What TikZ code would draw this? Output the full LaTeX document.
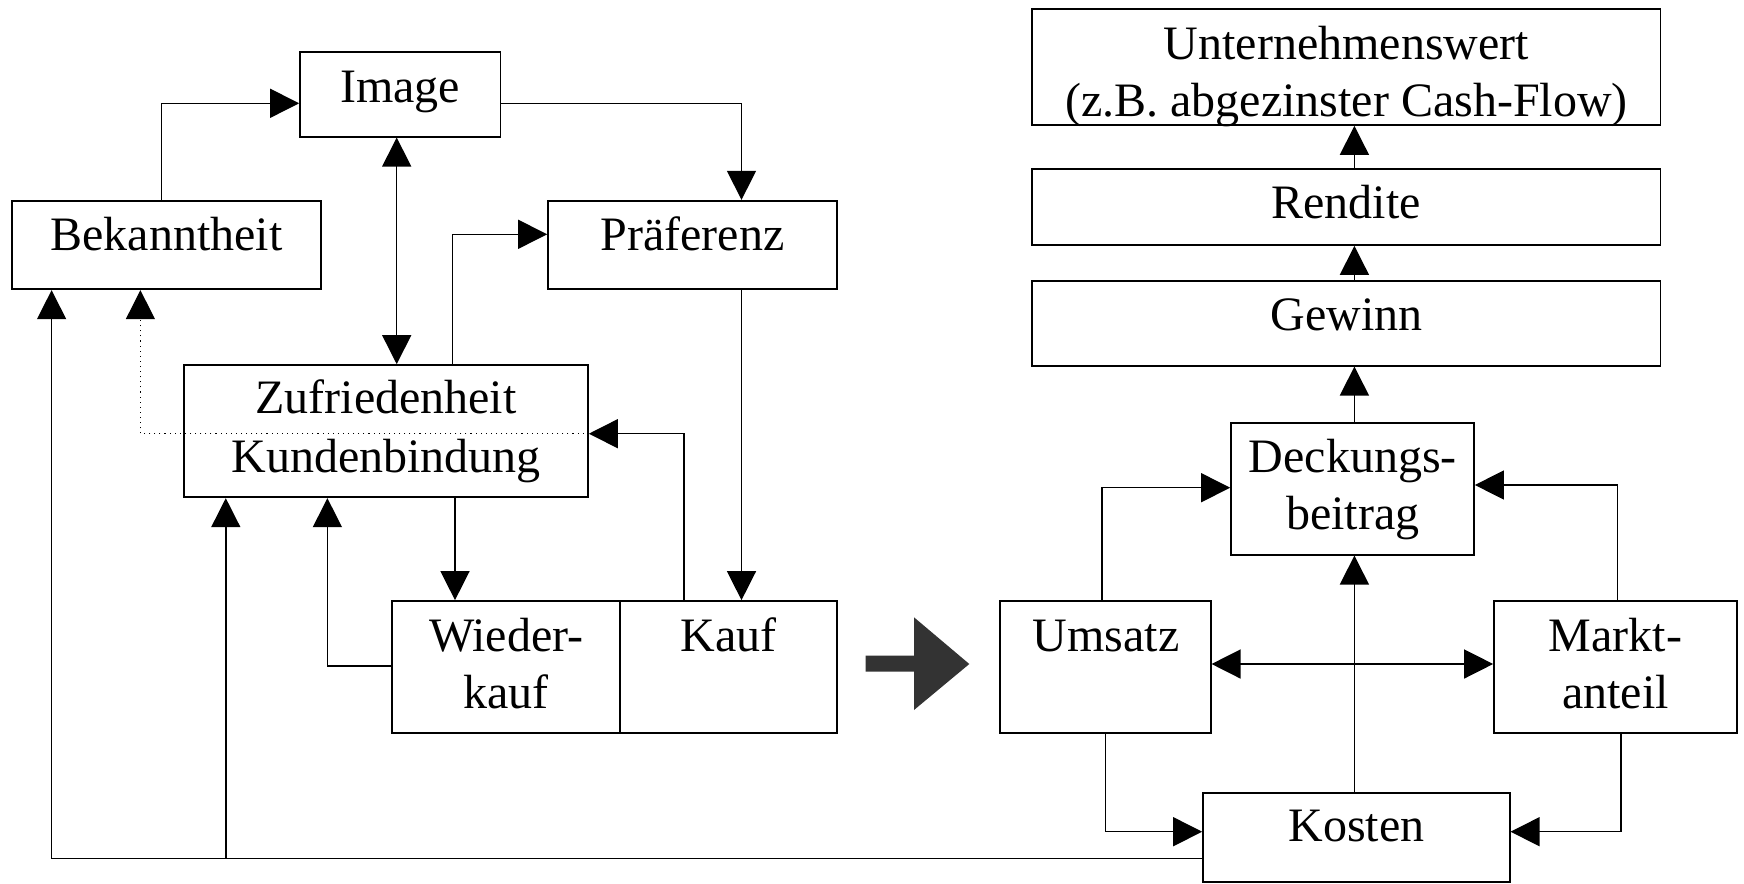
\documentclass[tikz,border=0pt]{standalone}
\usepackage{fontspec}
\setmainfont{Liberation Serif}
\usetikzlibrary{arrows.meta,fit}
\newcommand{\twoline}[2]{\begin{tabular}[t]{@{}c@{}}#1\\#2\end{tabular}}
\begin{document}
\fontsize{24}{28.5}\selectfont
\begin{tikzpicture}[x=0.5pt,y=-0.5pt,
  box/.style={draw, line width=0.85pt, inner sep=0pt, rectangle},
  txt/.style={inner sep=0pt, anchor=base},
  link/.style={line width=0.7pt},
  arr/.style={link, -{Triangle[length=14.5pt,width=14.5pt]}},
  arrboth/.style={link, {Triangle[length=14.5pt,width=14.5pt]}-{Triangle[length=14.5pt,width=14.5pt]}},
  dotlink/.style={line width=0.55pt, dotted, -{Triangle[length=14.5pt,width=14.5pt]}}]
\useasboundingbox (0,0) rectangle (1744,883);

% ---- left part: image, awareness, preference, satisfaction, purchase ----
\node[box, fit={(300,52) (500.5,136.7)}] (img) {};
\node[box, fit={(12.2,200.7) (320.7,289.3)}] (bek) {};
\node[box, fit={(548,200.7) (837,289.3)}] (pref) {};
\node[box, fit={(184,365) (588,497.3)}] (zuf) {};
\node[box, fit={(392.3,601) (620.3,733.3)}] (wied) {};
\node[box, fit={(620.3,601) (836.7,733.3)}] (kauf) {};

\node[txt] (timg) at (400,103) {Image};
\node[txt] (tbek) at (166.5,250.7) {Bekanntheit};
\node[txt] (tpref) at (692.5,250.7) {Präferenz};
\node[txt] (tzuf) at (386,413.3) {Zufriedenheit};
\node[txt] (tkb) at (386,472.7) {Kundenbindung};
\node[txt] (twied) at (506.3,651.7) {\twoline{Wieder-}{kauf}};
\node[txt] (tkauf) at (728.5,651.7) {Kauf};

% ---- right part: value chain ----
\node[box, fit={(1032,9) (1660.6,125)}] (uw) {};
\node[box, fit={(1032,169) (1660.6,245)}] (ren) {};
\node[box, fit={(1032,280.7) (1660.6,365.7)}] (gew) {};
\node[box, fit={(1231,422.7) (1474,554.7)}] (db) {};
\node[box, fit={(999.8,601) (1210.7,733.3)}] (ums) {};
\node[box, fit={(1494,601) (1736.7,733.3)}] (markt) {};
\node[box, fit={(1203,792.7) (1509.7,881.7)}] (kost) {};

\node[txt] (tuw) at (1346.5,59.3) {\twoline{Unternehmenswert}{(z.B. abgezinster Cash-Flow)}};
\node[txt] (tren) at (1346.3,218.3) {Rendite};
\node[txt] (tgew) at (1346.5,330) {Gewinn};
\node[txt] (tdb) at (1352.8,472.7) {\twoline{Deckungs-}{beitrag}};
\node[txt] (tums) at (1106,651) {Umsatz};
\node[txt] (tmarkt) at (1615.5,651) {\twoline{Markt-}{anteil}};
\node[txt] (tkost) at (1356.5,841.7) {Kosten};

% ---- transition arrow ----
\fill[fill=black!80] (865.7,655.7) -- (914,655.7) -- (914,617.3) -- (969.3,664)
  -- (914,710) -- (914,671.7) -- (865.7,671.7) -- cycle;

% ---- connectors, left part ----
\draw[arr] (161.5,0 |- bek.north) |- (img.west |- 0,103.3);
\draw[arr] (img.east |- 0,103.3) -| (741.5,0 |- pref.north);
\draw[arrboth] (396.7,0 |- img.south) -- (396.7,0 |- zuf.north);
\draw[arr] (452.2,0 |- zuf.north) |- (pref.west |- 0,234.3);
\draw[arr] (741.5,0 |- pref.south) -- (741.5,0 |- kauf.north);
\draw[arr] (684,0 |- kauf.north) |- (zuf.east |- 0,433.7);
\draw[dotlink] (zuf.east |- 0,433.7) -| (140.4,0 |- bek.south);
\draw[arr] (455,0 |- zuf.south) -- (455,0 |- wied.north);
\draw[arr] (wied.west |- 0,666) -| (327.4,0 |- zuf.south);

% ---- feedback from costs ----
\coordinate (split) at (225.8,858.3);
\draw[arr] (kost.west |- split) -| (51.6,0 |- bek.south);
\draw[arr] (split) -- (split |- zuf.south);

% ---- connectors, right part ----
\draw[arr] (1354.4,0 |- kost.north) -- (1354.4,0 |- db.south);
\draw[arr] (1354.4,0 |- db.north) -- (1354.4,0 |- gew.south);
\draw[arr] (1354.4,0 |- gew.north) -- (1354.4,0 |- ren.south);
\draw[arr] (1354.4,0 |- ren.north) -- (1354.4,0 |- uw.south);
\draw[arr] (1102,0 |- ums.north) |- (db.west |- 0,487.7);
\draw[arr] (1617.4,0 |- markt.north) |- (db.east |- 0,485);
\draw[arrboth] (ums.east |- 0,664) -- (markt.west |- 0,664);
\draw[arr] (1105.6,0 |- ums.south) |- (kost.west |- 0,831.7);
\draw[arr] (1621,0 |- markt.south) |- (kost.east |- 0,831.7);
\end{tikzpicture}
\end{document}
